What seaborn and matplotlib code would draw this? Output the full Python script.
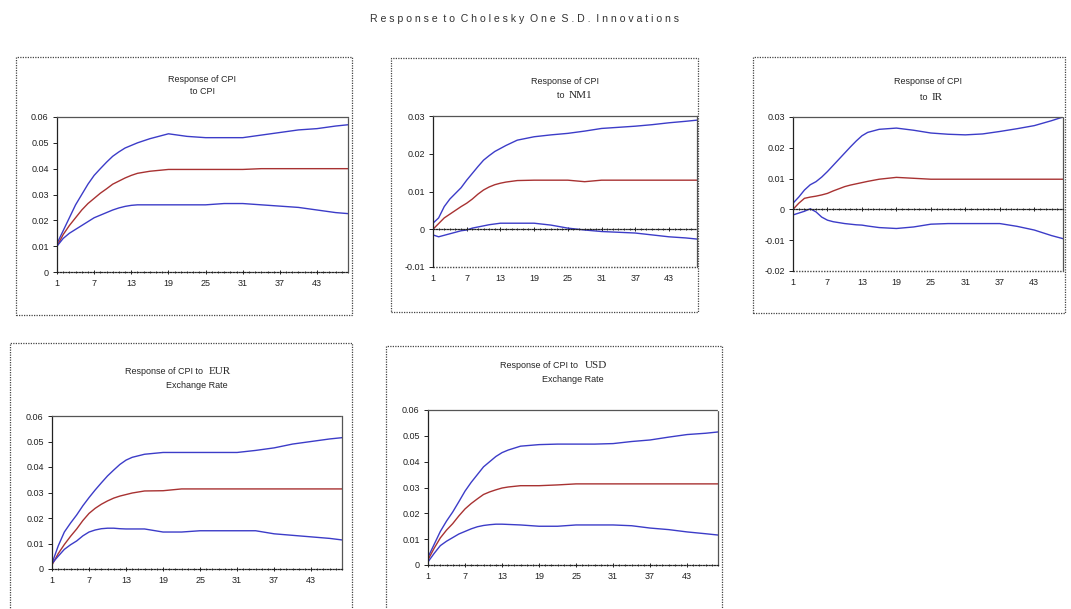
import pandas as pd
import matplotlib.pyplot as plt
import matplotlib.patches as mpatches
from matplotlib.ticker import MultipleLocator
import seaborn as sns

periods = [1, 2, 3, 4, 5, 6, 7, 8, 9, 10, 11, 12, 13, 14, 16, 19, 22, 25, 28, 31, 34, 37, 40, 43, 46, 48]

# Response of CPI to CPI
cpi_upper = [0.011, 0.016, 0.021, 0.026, 0.030, 0.034, 0.0374, 0.040, 0.0425, 0.0448, 0.0465, 0.048, 0.049, 0.050, 0.0516, 0.0535,
             0.0525, 0.052, 0.052, 0.052, 0.053, 0.054, 0.055, 0.0555, 0.0565, 0.057]
cpi_resp = [0.010, 0.0145, 0.018, 0.021, 0.024, 0.0265, 0.0285, 0.0305, 0.0322, 0.034, 0.0352, 0.0364, 0.0374, 0.0382, 0.039, 0.0397,
            0.0397, 0.0397, 0.0397, 0.0397, 0.040, 0.040, 0.040, 0.040, 0.040, 0.040]
cpi_lower = [0.010, 0.013, 0.015, 0.0165, 0.018, 0.0195, 0.021, 0.022, 0.023, 0.024, 0.0248, 0.0254, 0.0258, 0.026, 0.026, 0.026,
             0.026, 0.026, 0.0265, 0.0265, 0.026, 0.0255, 0.025, 0.024, 0.023, 0.0226]

# Response of CPI to NM1
nm1_upper = [0.0016, 0.003, 0.006, 0.008, 0.0095, 0.011, 0.013, 0.0148, 0.0166, 0.0183, 0.0195, 0.0206, 0.0214, 0.0222, 0.0236, 0.0245,
             0.025, 0.0254, 0.026, 0.0267, 0.027, 0.0273, 0.0277, 0.0282, 0.0286, 0.0289]
nm1_resp = [0.0, 0.0015, 0.003, 0.004, 0.005, 0.006, 0.0069, 0.008, 0.0093, 0.0104, 0.0112, 0.0118, 0.0122, 0.0125, 0.0129, 0.013,
            0.013, 0.013, 0.0126, 0.013, 0.013, 0.013, 0.013, 0.013, 0.013, 0.013]
nm1_lower = [-0.0015, -0.002, -0.0016, -0.0012, -0.0008, -0.0004, -0.0002, 0.0003, 0.0006, 0.0009, 0.0012, 0.0014, 0.0016, 0.0016, 0.0016, 0.0016,
             0.0011, 0.0003, -0.0002, -0.0006, -0.0008, -0.001, -0.0015, -0.002, -0.0023, -0.0026]

# Response of CPI to IR
ir_upper = [0.002, 0.004, 0.0063, 0.008, 0.009, 0.0105, 0.0123, 0.0143, 0.0163, 0.0183, 0.0203, 0.0222, 0.0239, 0.025, 0.026, 0.0264,
            0.0257, 0.0248, 0.0244, 0.0242, 0.0245, 0.0253, 0.0262, 0.0272, 0.0288, 0.030]
ir_resp = [0.0, 0.002, 0.0036, 0.004, 0.0043, 0.0047, 0.0052, 0.006, 0.0067, 0.0074, 0.0079, 0.0083, 0.0087, 0.0091, 0.0098, 0.0104,
           0.0101, 0.0098, 0.0098, 0.0098, 0.0098, 0.0098, 0.0098, 0.0098, 0.0098, 0.0098]
ir_lower = [-0.0018, -0.0012, -0.0006, 0.0002, -0.0008, -0.0025, -0.0035, -0.004, -0.0043, -0.0046, -0.0048, -0.005, -0.0051, -0.0054, -0.0059, -0.0062,
            -0.0057, -0.0048, -0.0046, -0.0046, -0.0046, -0.0046, -0.0055, -0.0067, -0.0085, -0.0095]

# Response of CPI to EUR exchange rate
eur_upper = [0.0022, 0.009, 0.0145, 0.018, 0.0212, 0.0248, 0.028, 0.031, 0.0338, 0.0365, 0.0388, 0.041, 0.0427, 0.0438, 0.045, 0.0457,
             0.0457, 0.0457, 0.0457, 0.0457, 0.0465, 0.0475, 0.049, 0.050, 0.051, 0.0515]
eur_resp = [0.0016, 0.006, 0.0096, 0.0128, 0.0157, 0.019, 0.0218, 0.0238, 0.0254, 0.0267, 0.0278, 0.0286, 0.0292, 0.0298, 0.0306, 0.0307,
            0.0314, 0.0314, 0.0314, 0.0314, 0.0314, 0.0314, 0.0314, 0.0314, 0.0314, 0.0314]
eur_lower = [0.0022, 0.005, 0.0077, 0.0095, 0.011, 0.013, 0.0145, 0.0153, 0.0158, 0.016, 0.016, 0.0158, 0.0157, 0.0157, 0.0157, 0.0145,
             0.0145, 0.015, 0.015, 0.015, 0.015, 0.0138, 0.0132, 0.0126, 0.012, 0.0114]

# Response of CPI to USD exchange rate
usd_upper = [0.003, 0.008, 0.013, 0.017, 0.0205, 0.0245, 0.0286, 0.032, 0.035, 0.038, 0.040, 0.042, 0.0435, 0.0445, 0.046, 0.0466,
             0.0468, 0.0468, 0.0468, 0.047, 0.0478, 0.0484, 0.0495, 0.0505, 0.051, 0.0515]
usd_resp = [0.002, 0.0065, 0.0105, 0.0135, 0.016, 0.019, 0.0217, 0.0238, 0.0256, 0.0273, 0.0283, 0.0291, 0.0298, 0.0302, 0.0307, 0.0307,
            0.031, 0.0314, 0.0314, 0.0314, 0.0314, 0.0314, 0.0314, 0.0314, 0.0314, 0.0314]
usd_lower = [0.0012, 0.0045, 0.0075, 0.0092, 0.0106, 0.012, 0.013, 0.014, 0.0148, 0.0153, 0.0156, 0.0158, 0.0158, 0.0157, 0.0155, 0.015,
             0.015, 0.0155, 0.0155, 0.0155, 0.0152, 0.0143, 0.0137, 0.0128, 0.0121, 0.0116]

panels = [
    dict(upper=cpi_upper, resp=cpi_resp, lower=cpi_lower, ylim=(0, 0.06), step=0.01,
         title=("Response of CPI", "to CPI", None), box=(16, 57, 352, 315), ax=(57, 117, 348, 272)),
    dict(upper=nm1_upper, resp=nm1_resp, lower=nm1_lower, ylim=(-0.01, 0.03), step=0.01,
         title=("Response of CPI", "to ", "NM1"), box=(391, 58, 698, 312), ax=(433, 116, 697, 267)),
    dict(upper=ir_upper, resp=ir_resp, lower=ir_lower, ylim=(-0.02, 0.03), step=0.01,
         title=("Response of CPI", "to ", "IR"), box=(753, 57, 1065, 313), ax=(793, 117, 1063, 271)),
    dict(upper=eur_upper, resp=eur_resp, lower=eur_lower, ylim=(0, 0.06), step=0.01,
         title=("Response of CPI to ", "EUR", "Exchange Rate"), box=(10, 343, 352, 612), ax=(52, 416, 342, 569)),
    dict(upper=usd_upper, resp=usd_resp, lower=usd_lower, ylim=(0, 0.06), step=0.01,
         title=("Response of CPI to ", "USD", "Exchange Rate"), box=(386, 346, 722, 612), ax=(428, 410, 718, 565)),
]

sns.set_style("white")
plt.rcParams["font.family"] = ["Liberation Sans", "DejaVu Sans"]

W, H = 1071, 609
fig = plt.figure(figsize=(W / 100, H / 100), dpi=100)
fig.text(524 / W, 1 - 19 / H, "R e s p o n s e  t o  C h o l e s k y  O n e  S . D .  I n n o v a t i o n s",
         ha="center", va="center", fontsize=7.6, color="#333333")

palette = {"upper": "#3c3cc8", "resp": "#a83232", "lower": "#3c3cc8"}
tick_font = 6.5

for i, p in enumerate(panels):
    x0, y0, x1, y1 = p["box"]
    fig.patches.append(mpatches.Rectangle((x0 / W, 1 - y1 / H), (x1 - x0) / W, (y1 - y0) / H,
                                          transform=fig.transFigure, fill=False, ec="#444444",
                                          lw=0.9, ls=(0, (1, 1))))
    l, t, r, b = p["ax"]
    ax = fig.add_axes([l / W, 1 - b / H, (r - l) / W, (b - t) / H])

    df = pd.DataFrame({
        "period": periods * 3,
        "value": p["upper"] + p["resp"] + p["lower"],
        "band": ["upper"] * len(periods) + ["resp"] * len(periods) + ["lower"] * len(periods),
    })
    sns.lineplot(data=df, x="period", y="value", hue="band", palette=palette,
                 linewidth=1.0, ax=ax, legend=False, estimator=None, sort=False)

    ymin, ymax = p["ylim"]
    ax.set_xlim(1, 48)
    ax.set_ylim(ymin, ymax)
    ax.set_xticks([1, 7, 13, 19, 25, 31, 37, 43])
    ax.xaxis.set_minor_locator(MultipleLocator(1))
    ax.yaxis.set_major_locator(MultipleLocator(p["step"]))
    ax.set_yticklabels([("0" if abs(v) < 1e-9 else f"{v:g}") for v in ax.get_yticks()])

    # category axis crosses at zero, labels stay at the bottom of the plot area
    zero_px = (0 - ymin) / (ymax - ymin) * (b - t)
    ax.spines["bottom"].set_position(("data", 0))
    if ymin < 0:
        ax.axhline(ymin, color="#444444", lw=1.0, ls=(0, (1, 1)), zorder=1, clip_on=False)

    ax.tick_params(axis="both", which="both", bottom=True, left=True, colors="#222222")
    ax.tick_params(axis="both", labelsize=tick_font, length=3, width=0.7, direction="out", pad=3)
    ax.tick_params(axis="x", which="minor", length=2, width=0.6, direction="inout")
    ax.tick_params(axis="x", which="major", length=3, direction="inout",
                   pad=(zero_px + 5) * 0.72)
    ax.set_xlabel("")
    ax.set_ylabel("")
    for side in ["top", "right"]:
        ax.spines[side].set_color("#555555")
        ax.spines[side].set_linewidth(0.9)
        ax.spines[side].set_linestyle((0, (1, 1)))
    ax.spines["left"].set_color("#222222")
    ax.spines["left"].set_linewidth(0.9)
    ax.spines["bottom"].set_color("#222222")
    ax.spines["bottom"].set_linewidth(0.9)
    ax.spines["bottom"].set_linestyle((0, (1, 1.2)))

    # two-line panel titles, with the serif series names as in the original
    cx = (l + r) / 2 / W
    a, bb, c = p["title"]
    if i == 0:
        fig.text(cx, 1 - 79 / H, a, ha="center", va="center", fontsize=6.5)
        fig.text(cx, 1 - 92 / H, bb, ha="center", va="center", fontsize=6.5)
    elif i in (1, 2):
        fig.text(cx, 1 - (t - 35) / H, a, ha="center", va="center", fontsize=6.5)
        fig.text(cx + 2 / W, 1 - (t - 20) / H, bb, ha="right", va="center", fontsize=6.5)
        fig.text(cx + 4 / W, 1 - (t - 20) / H, c, ha="left", va="center", fontsize=8,
                 family="Liberation Serif")
    else:
        fig.text(cx + 8 / W, 1 - (t - 44) / H, a, ha="right", va="center", fontsize=6.5)
        fig.text(cx + 12 / W, 1 - (t - 45) / H, bb, ha="left", va="center", fontsize=8,
                 family="Liberation Serif")
        fig.text(cx, 1 - (t - 30) / H, c, ha="center", va="center", fontsize=6.5)

fig.savefig("out.png", dpi=100, facecolor="white")
